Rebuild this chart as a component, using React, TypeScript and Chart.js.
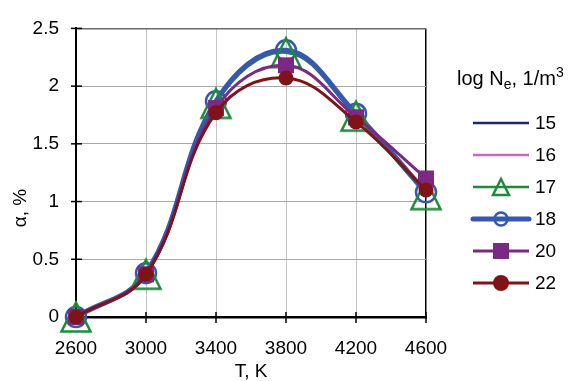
import React, { useEffect, useRef } from "react";
import { Chart, registerables } from "chart.js";

Chart.register(...registerables);

const temperatures = [2600, 3000, 3400, 3800, 4200, 4600];
const xTickValues = [2600, 3000, 3400, 3800, 4200, 4600];
const yTickValues = [0, 0.5, 1, 1.5, 2, 2.5];
const yTickLabels = ["0", "0.5", "1", "1.5", "2", "2.5"];

const ne15 = [0, 0.37, 1.86, 2.3, 1.76, 1.08];
const ne16 = [0, 0.38, 1.87, 2.3, 1.76, 1.08];
const ne17 = [0, 0.37, 1.85, 2.29, 1.74, 1.06];
const ne18 = [0, 0.38, 1.87, 2.31, 1.76, 1.08];
const ne20 = [0, 0.37, 1.81, 2.18, 1.73, 1.2];
const ne22 = [0, 0.37, 1.77, 2.07, 1.69, 1.1];

const seriesLabels = ["15", "16", "17", "18", "20", "22"];

const FONT = '"Liberation Sans", Arial, sans-serif';
const C_NAVY = "#1f2670";
const C_PINK = "#c368c3";
const C_GREEN = "#1e8a3c";
const C_BLUE = "#3858b0";
const C_PURPLE = "#7a2a82";
const C_RED = "#7e1418";

function makeTriangle(size: number, lw: number, color: string) {
  const pad = lw + 1;
  const c = document.createElement("canvas");
  c.width = size + pad * 2;
  c.height = size + pad * 2;
  const g = c.getContext("2d")!;
  g.strokeStyle = color;
  g.lineWidth = lw;
  g.lineJoin = "miter";
  g.beginPath();
  g.moveTo(pad + size / 2, pad);
  g.lineTo(pad + size, pad + size);
  g.lineTo(pad, pad + size);
  g.closePath();
  g.stroke();
  return c;
}

function drawLegendMarker(ctx: CanvasRenderingContext2D, kind: string, x: number, y: number) {
  ctx.save();
  if (kind === "tri") {
    const s = 16;
    ctx.strokeStyle = C_GREEN;
    ctx.lineWidth = 2.5;
    ctx.beginPath();
    ctx.moveTo(x, y - s / 2);
    ctx.lineTo(x + s / 2, y + s / 2);
    ctx.lineTo(x - s / 2, y + s / 2);
    ctx.closePath();
    ctx.stroke();
  } else if (kind === "circ") {
    ctx.strokeStyle = C_BLUE;
    ctx.lineWidth = 2.5;
    ctx.beginPath();
    ctx.arc(x, y, 6.5, 0, Math.PI * 2);
    ctx.stroke();
  } else if (kind === "sq") {
    ctx.fillStyle = C_PURPLE;
    ctx.fillRect(x - 8, y - 8, 16, 16);
  } else if (kind === "dot") {
    ctx.fillStyle = C_RED;
    ctx.beginPath();
    ctx.arc(x, y, 8, 0, Math.PI * 2);
    ctx.fill();
  }
  ctx.restore();
}

export default function App() {
  const ref = useRef<HTMLCanvasElement | null>(null);

  useEffect(() => {
    document.body.style.margin = "0";
    const canvas = ref.current;
    if (!canvas) return;

    const tri = makeTriangle(29, 2.5, C_GREEN);
    const toXY = (arr: number[]) => arr.map((v, i) => ({ x: temperatures[i], y: v }));

    const legendItems = [
      { label: seriesLabels[0], color: C_NAVY, width: 2.5, marker: "" },
      { label: seriesLabels[1], color: C_PINK, width: 2.5, marker: "" },
      { label: seriesLabels[2], color: C_GREEN, width: 2.5, marker: "tri" },
      { label: seriesLabels[3], color: C_BLUE, width: 5, marker: "circ" },
      { label: seriesLabels[4], color: C_PURPLE, width: 3, marker: "sq" },
      { label: seriesLabels[5], color: C_RED, width: 3, marker: "dot" },
    ];

    const extras = {
      id: "extras",
      beforeDatasetsDraw(chart: any) {
        const ctx = chart.ctx as CanvasRenderingContext2D;
        const xs = chart.scales.x;
        const ys = chart.scales.y;
        const ca = chart.chartArea;
        ctx.save();
        ctx.strokeStyle = "#000";
        ctx.lineWidth = 1.5;
        yTickValues.forEach((v) => {
          const py = ys.getPixelForValue(v);
          ctx.beginPath();
          ctx.moveTo(ca.left - 5, py);
          ctx.lineTo(ca.left + 6, py);
          ctx.stroke();
        });
        xTickValues.forEach((v) => {
          const px = xs.getPixelForValue(v);
          ctx.beginPath();
          ctx.moveTo(px, ca.bottom - 5);
          ctx.lineTo(px, ca.bottom + 6);
          ctx.stroke();
        });
        ctx.restore();
      },
      afterDraw(chart: any) {
        const ctx = chart.ctx as CanvasRenderingContext2D;
        const ca = chart.chartArea;
        ctx.save();
        ctx.fillStyle = "#000";
        // x title
        ctx.font = `19px ${FONT}`;
        ctx.textAlign = "center";
        ctx.textBaseline = "alphabetic";
        ctx.fillText("T, K", (ca.left + ca.right) / 2, 377);
        // y title
        ctx.save();
        ctx.translate(21, 208);
        ctx.rotate(-Math.PI / 2);
        ctx.textAlign = "center";
        ctx.textBaseline = "middle";
        ctx.fillText("α, %", 0, 0);
        ctx.restore();
        // legend title
        ctx.textAlign = "left";
        ctx.textBaseline = "alphabetic";
        let x = 457;
        const base = 85;
        const big = `20px ${FONT}`;
        const small = `14px ${FONT}`;
        ctx.font = big;
        ctx.fillText("log N", x, base);
        x += ctx.measureText("log N").width;
        ctx.font = small;
        ctx.fillText("e", x, base + 4);
        x += ctx.measureText("e").width;
        ctx.font = big;
        ctx.fillText(", 1/m", x, base);
        x += ctx.measureText(", 1/m").width;
        ctx.font = small;
        ctx.fillText("3", x, base - 8);
        // legend entries
        const entryFont = `19px ${FONT}`;
        legendItems.forEach((it, i) => {
          const y = 123 + i * 32;
          ctx.strokeStyle = it.color;
          ctx.lineWidth = it.width;
          ctx.lineCap = it.width > 4 ? "round" : "butt";
          ctx.beginPath();
          ctx.moveTo(473, y);
          ctx.lineTo(529, y);
          ctx.stroke();
          if (it.marker) drawLegendMarker(ctx, it.marker, 501, y);
          ctx.fillStyle = "#000";
          ctx.font = entryFont;
          ctx.textBaseline = "middle";
          ctx.fillText(it.label, 535, y + 1);
        });
        ctx.restore();
      },
    };

    const common = { tension: 0.4, clip: false as any, fill: false };

    const chart = new Chart(canvas, {
      type: "line",
      data: {
        datasets: [
          { ...common, label: seriesLabels[0], data: toXY(ne15), borderColor: C_NAVY, borderWidth: 2.5, pointRadius: 0, order: 7 },
          { ...common, label: seriesLabels[1], data: toXY(ne16), borderColor: C_PINK, borderWidth: 2.5, pointRadius: 0, order: 6 },
          { ...common, label: seriesLabels[2], data: toXY(ne17), borderColor: C_GREEN, borderWidth: 2.5, pointRadius: 0, order: 5 },
          { ...common, label: seriesLabels[3], data: toXY(ne18), borderColor: C_BLUE, borderWidth: 5, pointStyle: "circle", pointRadius: 10, pointBorderWidth: 2.5, pointBackgroundColor: "rgba(0,0,0,0)", pointBorderColor: C_BLUE, order: 4 },
          { ...common, label: seriesLabels[2] + " markers", data: toXY(ne17), showLine: false, borderColor: C_GREEN, pointStyle: tri as any, pointRadius: 15, order: 3 },
          { ...common, label: seriesLabels[4], data: toXY(ne20), borderColor: C_PURPLE, borderWidth: 3, pointStyle: "rect", pointRadius: 11.3, pointBorderWidth: 0, pointBackgroundColor: C_PURPLE, pointBorderColor: C_PURPLE, order: 2 },
          { ...common, label: seriesLabels[5], data: toXY(ne22), borderColor: C_RED, borderWidth: 3, pointStyle: "circle", pointRadius: 7.5, pointBorderWidth: 0, pointBackgroundColor: C_RED, pointBorderColor: C_RED, order: 1 },
        ],
      },
      options: {
        responsive: true,
        maintainAspectRatio: false,
        animation: false,
        events: [],
        layout: { padding: { left: 0, top: 25, right: 145, bottom: 0 } },
        plugins: { legend: { display: false }, tooltip: { enabled: false } },
        scales: {
          x: {
            type: "linear",
            min: 2600,
            max: 4600,
            afterBuildTicks: (s: any) => {
              s.ticks = xTickValues.map((v) => ({ value: v }));
            },
            afterFit: (s: any) => {
              s.height = 64;
            },
            ticks: {
              color: "#000",
              font: { family: FONT, size: 19 },
              padding: 20,
              maxRotation: 0,
              autoSkip: false,
              callback: (v: any) => String(v),
            },
            grid: {
              drawTicks: false,
              color: (c: any) => (c.tick && c.tick.value === 4600 ? "#000" : "#c4c4c4"),
              lineWidth: (c: any) => (c.tick && c.tick.value === 4600 ? 1.5 : 1),
            },
            border: { display: true, color: "#000", width: 2.5 },
          },
          y: {
            type: "linear",
            min: 0,
            max: 2.5,
            afterBuildTicks: (s: any) => {
              s.ticks = yTickValues.map((v) => ({ value: v }));
            },
            afterFit: (s: any) => {
              s.width = 76;
            },
            ticks: {
              color: "#000",
              font: { family: FONT, size: 19 },
              padding: 17,
              autoSkip: false,
              callback: (v: any) => {
                const i = yTickValues.indexOf(Number(v));
                return i >= 0 ? yTickLabels[i] : "";
              },
            },
            grid: {
              drawTicks: false,
              color: (c: any) => (c.tick && c.tick.value === 2.5 ? "#6a6a6a" : "#a8a8a8"),
              lineWidth: (c: any) => (c.tick && c.tick.value === 2.5 ? 1.5 : 1),
            },
            border: { display: true, color: "#000", width: 2 },
          },
        },
      },
      plugins: [extras],
    });

    return () => chart.destroy();
  }, []);

  return (
    <div style={{ position: "absolute", left: 0, top: 0, width: 571, height: 381, background: "#fff" }}>
      <canvas ref={ref} />
    </div>
  );
}
